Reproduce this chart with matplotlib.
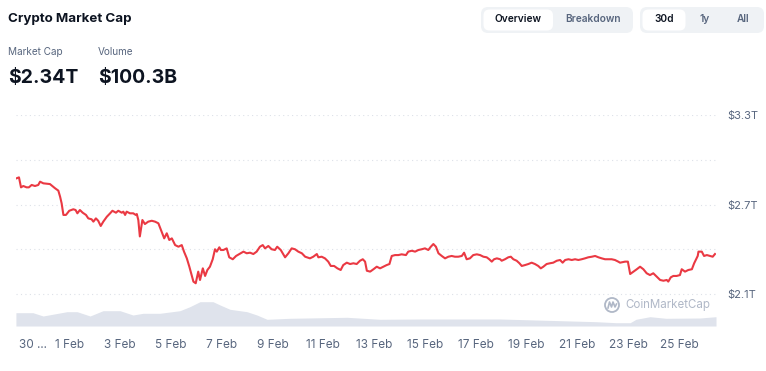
import matplotlib.pyplot as plt
from matplotlib.patches import FancyBboxPatch, Circle

plt.rcParams["font.family"] = ["Inter", "DejaVu Sans"]

# market cap in trillions USD, x = days from 1 Feb
cap_days = [
    -2.08, -1.99, -1.91, -1.82, -1.69, -1.60, -1.49, -1.36, -1.23, -1.16,
    -1.03, -0.77, -0.68, -0.57, -0.44, -0.37, -0.31, -0.24, -0.14, -0.01,
    0.15, 0.24, 0.31, 0.41, 0.52, 0.65, 0.74, 0.87, 0.94, 1.04,
    1.13, 1.23, 1.33, 1.47, 1.60, 1.69, 1.83, 1.92, 2.06, 2.12,
    2.19, 2.25, 2.38, 2.51, 2.61, 2.65, 2.71, 2.77, 2.87, 2.97,
    3.10, 3.24, 3.37, 3.50, 3.63, 3.73, 3.83, 3.93, 4.03, 4.16,
    4.29, 4.42, 4.51, 4.62, 4.72, 4.81, 4.88, 4.97, 5.07, 5.14,
    5.25, 5.34, 5.43, 5.53, 5.64, 5.73, 5.80, 5.90, 5.96, 6.06,
    6.19, 6.29, 6.43, 6.56, 6.69, 6.85, 6.98, 7.11, 7.24, 7.37,
    7.50, 7.61, 7.70, 7.83, 7.96, 8.09, 8.18, 8.32, 8.49, 8.62,
    8.75, 8.88, 9.01, 9.15, 9.28, 9.47, 9.60, 9.74, 9.80, 9.93,
    10.06, 10.19, 10.29, 10.42, 10.55, 10.68, 10.78, 10.92, 11.05, 11.18,
    11.31, 11.44, 11.55, 11.64, 11.71, 11.84, 11.97, 12.10, 12.23, 12.36,
    12.49, 12.60, 12.69, 12.82, 12.95, 13.08, 13.25, 13.34, 13.48, 13.61,
    13.74, 13.87, 14.00, 14.13, 14.23, 14.33, 14.43, 14.53, 14.66, 14.79,
    14.92, 15.05, 15.18, 15.31, 15.45, 15.54, 15.64, 15.77, 15.90, 16.04,
    16.17, 16.30, 16.43, 16.53, 16.63, 16.72, 16.83, 16.96, 17.02, 17.15,
    17.28, 17.38, 17.48, 17.61, 17.72, 17.81, 17.94, 18.07, 18.20, 18.33,
    18.46, 18.56, 18.66, 18.79, 18.92, 19.05, 19.19, 19.32, 19.42, 19.52,
    19.65, 19.78, 19.91, 20.04, 20.17, 20.30, 20.43, 20.57, 20.70, 20.83,
    20.96, 21.09, 21.22, 21.35, 21.48, 21.61, 21.68, 21.88, 21.99, 22.08,
    22.21, 22.34, 22.47, 22.60, 22.73, 22.86, 22.99, 23.13, 23.26, 23.39,
    23.52, 23.58, 23.68, 23.78, 23.91, 24.04, 24.11, 24.24, 24.37, 24.51,
    24.60, 24.74, 24.77, 24.90, 24.99, 25.10, 25.23, 25.33, 25.42,
]
cap_values = [
    2.876, 2.882, 2.815, 2.824, 2.815, 2.815, 2.831, 2.824, 2.831, 2.853,
    2.842, 2.837, 2.824, 2.809, 2.793, 2.752, 2.708, 2.630, 2.630, 2.658,
    2.668, 2.663, 2.641, 2.663, 2.645, 2.630, 2.607, 2.601, 2.585, 2.607,
    2.591, 2.556, 2.585, 2.618, 2.641, 2.658, 2.645, 2.658, 2.645, 2.652,
    2.630, 2.652, 2.641, 2.641, 2.630, 2.636, 2.596, 2.486, 2.596, 2.569,
    2.585, 2.591, 2.585, 2.574, 2.518, 2.473, 2.507, 2.462, 2.473, 2.428,
    2.417, 2.428, 2.384, 2.339, 2.283, 2.227, 2.183, 2.172, 2.250, 2.194,
    2.272, 2.221, 2.261, 2.283, 2.333, 2.400, 2.384, 2.413, 2.395, 2.395,
    2.406, 2.346, 2.333, 2.355, 2.368, 2.384, 2.373, 2.377, 2.368, 2.384,
    2.417, 2.428, 2.406, 2.422, 2.400, 2.395, 2.417, 2.395, 2.346, 2.373,
    2.406, 2.400, 2.384, 2.373, 2.350, 2.339, 2.350, 2.368, 2.346, 2.350,
    2.339, 2.317, 2.288, 2.288, 2.272, 2.261, 2.294, 2.310, 2.301, 2.306,
    2.301, 2.323, 2.333, 2.317, 2.256, 2.250, 2.266, 2.283, 2.272, 2.283,
    2.294, 2.301, 2.355, 2.361, 2.361, 2.366, 2.361, 2.384, 2.390, 2.384,
    2.395, 2.400, 2.406, 2.395, 2.417, 2.435, 2.417, 2.373, 2.355, 2.339,
    2.350, 2.355, 2.350, 2.350, 2.355, 2.377, 2.333, 2.339, 2.361, 2.366,
    2.361, 2.350, 2.346, 2.333, 2.317, 2.333, 2.339, 2.333, 2.323, 2.333,
    2.346, 2.350, 2.333, 2.323, 2.306, 2.288, 2.294, 2.301, 2.310, 2.301,
    2.288, 2.272, 2.283, 2.301, 2.306, 2.310, 2.323, 2.328, 2.310, 2.328,
    2.333, 2.328, 2.333, 2.328, 2.333, 2.339, 2.346, 2.350, 2.355, 2.346,
    2.339, 2.333, 2.333, 2.333, 2.328, 2.317, 2.310, 2.317, 2.317, 2.234,
    2.250, 2.266, 2.283, 2.266, 2.239, 2.227, 2.239, 2.216, 2.194, 2.189,
    2.194, 2.183, 2.212, 2.221, 2.221, 2.227, 2.266, 2.250, 2.261, 2.266,
    2.306, 2.355, 2.384, 2.384, 2.355, 2.361, 2.355, 2.350, 2.368,
]

# volume in billions USD
vol_days = [
    -2.11, -1.44, -1.04, -0.10, 0.30, 0.81, 1.32, 1.99, 2.50, 2.90,
    3.56, 4.35, 4.74, 5.14, 5.65, 5.93, 6.32, 6.99, 7.38, 7.78,
    8.68, 10.93, 12.23, 13.80, 16.96, 20.74, 21.52, 22.08, 22.31, 22.86,
    23.49, 24.83, 25.46,
]
vol_values = [
    133, 133, 100, 143, 143, 100, 153, 153, 110, 127,
    127, 153, 193, 243, 243, 210, 167, 143, 110, 67,
    77, 87, 67, 70, 70, 43, 33, 33, 67, 93,
    77, 80, 93,
]

day_ticks = list(range(-2, 26, 2))
day_labels = ["30 ...", "1 Feb", "3 Feb", "5 Feb", "7 Feb", "9 Feb", "11 Feb",
              "13 Feb", "15 Feb", "17 Feb", "19 Feb", "21 Feb", "23 Feb",
              "25 Feb"]
cap_ticks = [2.1, 2.4, 2.7, 3.0, 3.3]
cap_labels = ["$2.1T", "", "$2.7T", "", "$3.3T"]

W, H = 766, 371
RED = "#ea3943"
GREY = "#58667e"
DARK = "#0d1421"

fig = plt.figure(figsize=(W / 100, H / 100), dpi=100)

# pixel-space layer for header, buttons and watermark
bg = fig.add_axes([0, 0, 1, 1])
bg.set_xlim(0, W)
bg.set_ylim(H, 0)
bg.axis("off")

bg.text(8, 19, "Crypto Market Cap", fontsize=9.6, fontweight="bold",
        color=DARK, va="center")
bg.text(8, 52, "Market Cap", fontsize=7.2, color=GREY, va="center")
bg.text(98, 52, "Volume", fontsize=7.2, color=GREY, va="center")
bg.text(8, 78, "$2.34T", fontsize=14, fontweight="bold", color=DARK,
        va="center")
bg.text(98, 78, "$100.3B", fontsize=14, fontweight="bold", color=DARK,
        va="center")

for x, w in [(481, 152), (640, 124)]:
    bg.add_patch(FancyBboxPatch((x, 7), w, 26, boxstyle="round,pad=0,rounding_size=7",
                                fc="#eff2f5", ec="none"))
for x, w in [(483.5, 69.5), (642.5, 43)]:
    bg.add_patch(FancyBboxPatch((x, 9.5), w, 21, boxstyle="round,pad=0,rounding_size=6",
                                fc="white", ec="none"))
for x, label, active in [(518, "Overview", True), (593, "Breakdown", False),
                         (664, "30d", True), (705, "1y", False),
                         (743.5, "All", False)]:
    bg.text(x, 19.5, label, fontsize=7.3, fontweight="semibold",
            color=DARK if active else GREY, ha="center", va="center")

# watermark
bg.add_patch(Circle((612, 305), 7, fill=False, ec="#b0b8c7", lw=1.3))
bg.plot([608, 609.5, 611.5, 613, 615, 616.5], [308, 302, 307, 302, 307, 304],
        color="#b0b8c7", lw=1.2)
bg.text(625, 305, "CoinMarketCap", fontsize=8.3, color="#b0b8c7", va="center")

pos = [16 / W, (H - 326) / H, 700 / W, 211 / H]
xlim = (-2.107, 25.46)

ax_vol = fig.add_axes(pos)
ax_vol.fill_between(vol_days, vol_values, color="#dfe3ec", lw=0)
ax_vol.set_xlim(xlim)
ax_vol.set_ylim(0, 2110)
ax_vol.axis("off")

ax = fig.add_axes(pos)
ax.patch.set_visible(False)
ax.plot(cap_days, cap_values, color=RED, lw=1.5, solid_joinstyle="round")
ax.set_xlim(xlim)
ax.set_ylim(1.8855, 3.3)
for s in ax.spines.values():
    s.set_visible(False)

ax.set_yticks(cap_ticks)
ax.set_yticklabels(cap_labels)
ax.yaxis.tick_right()
ax.grid(axis="y", color="#dde1e8", linestyle=(0, (1, 3)), lw=0.8)
ax.tick_params(axis="y", length=0, pad=8.5, labelsize=8, labelcolor=GREY)

ax.set_xticks(day_ticks)
ax.set_xticklabels(day_labels)
ax.get_xticklabels()[0].set_ha("left")
ax.tick_params(axis="x", length=0, pad=9, labelsize=8.5, labelcolor=GREY)

fig.savefig("out.png", dpi=100)
